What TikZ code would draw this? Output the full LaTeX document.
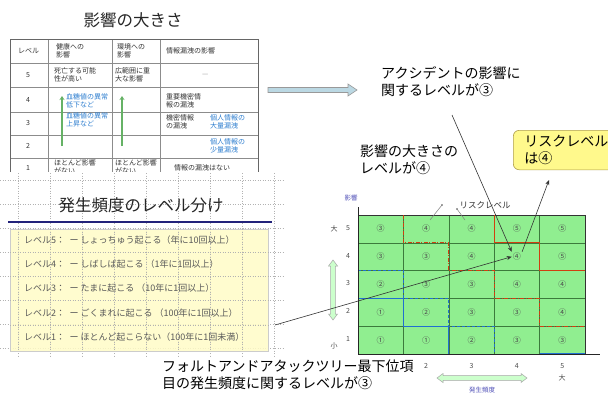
\documentclass[tikz,border=0pt]{standalone}
\usepackage{fontspec}
\setmainfont{Noto Sans CJK JP}
\usetikzlibrary{arrows.meta}
\definecolor{tblue}{HTML}{2F7FD0}
\definecolor{cellgreen}{HTML}{90EE90}
\definecolor{gridgreen}{HTML}{3C7A3C}
\definecolor{riskred}{HTML}{D04010}
\definecolor{lineblue}{HTML}{2070D0}
\definecolor{navy}{HTML}{22227A}
\definecolor{axisblue}{HTML}{5050B8}
\tikzset{
  tbl/.style={font=\fontsize{7}{8.2}\selectfont, text=black!80, anchor=west, align=left, inner sep=0},
  tblblue/.style={tbl, text=tblue},
  cellnum/.style={font=\fontsize{8}{9}\selectfont, text=black!70, inner sep=1pt},
  axlab/.style={font=\fontsize{7}{8}\selectfont, text=black!70, inner sep=0},
  bigtxt/.style={font=\fontsize{14}{17}\selectfont, anchor=north west, align=left, inner sep=0},
  freq/.style={font=\fontsize{9}{10}\selectfont, text=black!65, anchor=west, inner sep=0},
  titletxt/.style={font=\fontsize{16.5}{18}\selectfont, text=black!85, inner sep=0},
  dotgrid/.style={black!30, dotted, line width=0.5pt},
  redsolid/.style={riskred, line width=1.3pt},
  reddash/.style={riskred, line width=1.1pt, dash pattern=on 4pt off 1.5pt on 1pt off 1.5pt},
  bluedash/.style={lineblue, line width=1.1pt, dash pattern=on 3pt off 2pt},
  bluesolid/.style={lineblue, line width=1.2pt},
  ptr/.style={black!80, line width=0.6pt, -{Stealth[length=5pt,width=4pt]}},
  hollowarrow/.style={fill=green!20!white, draw=black!35, line width=0.5pt},
  tblarrow/.style={green!50!black!60, line width=1.3pt, -{Stealth[length=4pt,width=5pt]}},
}
\begin{document}
\begin{tikzpicture}[x=1pt,y=-1pt]
\useasboundingbox (0,0) rectangle (608,399);
\fill[white] (0,0) rectangle (608,399);

% ---------- title 1 ----------
\node[titletxt] (t1) at (133,20) {影響の大きさ};

% ---------- table ----------
\begin{scope}
\clip (0,30) rectangle (270,171);
\draw[black!45, line width=0.5pt] (10,63) -- (258,63) (10,87) -- (258,87) (10,112) -- (258,112)
  (10,135) -- (258,135) (10,158) -- (258,158);
\draw[black!45, line width=0.5pt] (48,39) -- (48,180) (112,39) -- (112,180) (160,39) -- (160,180);
\draw[black!60, line width=0.8pt] (10,180) -- (10,39) -- (258,39) -- (258,180);
\node[tbl] (h0) at (18,51) {レベル};
\node[tbl] (h1) at (56,51) {健康への\\影響};
\node[tbl] (h2) at (117,51) {環境への\\影響};
\node[tbl] (h3) at (166,51) {情報漏洩の影響};
\node[tbl] (r5) at (26,75) {5};
\node[tbl] (r5a) at (54,75) {死亡する可能\\性が高い};
\node[tbl] (r5b) at (115,75) {広範囲に重\\大な影響};
\node[tbl, text=black!40] (r5c) at (202,75) {—};
\node[tbl] (r4) at (26,100) {4};
\node[tblblue] (r4a) at (66,101) {血糖値の異常\\低下など};
\node[tbl] (r4c) at (166,101) {重要機密情\\報の漏洩};
\node[tbl] (r3) at (26,123) {3};
\node[tblblue] (r3a) at (66,120) {血糖値の異常\\上昇など};
\node[tbl] (r3c) at (166,122) {機密情報\\の漏洩};
\node[tblblue] (r3d) at (210,122) {個人情報の\\大量漏洩};
\node[tbl] (r2) at (26,146) {2};
\node[tblblue] (r2d) at (210,146) {個人情報の\\少量漏洩};
\node[tbl] (r1) at (26,168) {1};
\node[tbl] (r1a) at (54,167) {ほとんど影響\\がない};
\node[tbl] (r1b) at (115,167) {ほとんど影響\\がない};
\node[tbl] (r1c) at (174,168) {情報の漏洩はない};
\coordinate (ga1) at (62,146); \coordinate (ga2) at (62,96);
\coordinate (gb1) at (122,146); \coordinate (gb2) at (122,96);
\draw[tblarrow] (ga1) -- (ga2);
\draw[tblarrow] (gb1) -- (gb2);
\end{scope}

% ---------- big teal arrow ----------
\filldraw[fill=cyan!25!teal!30, draw=black!40, line width=0.6pt]
  (268,87.5) -- (348,87.5) -- (348,84) -- (357,90) -- (348,96) -- (348,92.5) -- (268,92.5) -- cycle;

% ---------- dotted grid region ----------
\foreach \xx in {18,50,82,114,146,178,210,242,274} \draw[dotgrid] (\xx,173) -- (\xx,356);
\foreach \yy in {180,204,228,252,276,300,324,348} \draw[dotgrid] (0,\yy) -- (284,\yy);
\node[titletxt] (t2) at (141,205) {発生頻度のレベル分け};
\draw[navy, line width=1.8pt] (8,222) -- (272,222);
\filldraw[fill=yellow!22, draw=black!20, line width=0.5pt, fill opacity=0.85] (10,229) rectangle (268,351);
\foreach \yy in {252,276,300,325} \draw[dotgrid] (10,\yy) -- (268,\yy);
\foreach \xx in {18,50,82,114,146,178,210,242} \draw[dotgrid] (\xx,229) -- (\xx,351);
\node[freq] (f5) at (24,240) {レベル5：\; ー しょっちゅう起こる（年に10回以上）};
\node[freq] (f4) at (24,264) {レベル4：\; ー しばしば起こる （1年に1回以上）};
\node[freq] (f3) at (24,288) {レベル3：\; ー たまに起こる （10年に1回以上）};
\node[freq] (f2) at (24,313) {レベル2：\; ー ごくまれに起こる （100年に1回以上）};
\node[freq] (f1) at (24,337) {レベル1：\; ー ほとんど起こらない（100年に1回未満）};

% ---------- risk matrix ----------
\fill[cellgreen] (358,215) rectangle (585,354);
\foreach \i in {1,2,3,4} \draw[gridgreen, line width=0.5pt] ({358+45.4*\i},215) -- ({358+45.4*\i},354);
\foreach \j in {1,2,3,4} \draw[gridgreen, line width=0.5pt] (358,{215+27.8*\j}) -- (585,{215+27.8*\j});
\draw[black!80, line width=0.8pt] (358,215) -- (585,215) -- (585,354);
% boundaries
\draw[bluesolid] (358,298.4) -- (403.4,298.4) -- (403.4,326.2) -- (448.8,326.2) -- (448.8,354);
\draw[bluedash] (358,270.6) -- (403.4,270.6) -- (403.4,298.4) -- (448.8,298.4) -- (448.8,326.2) -- (494.2,326.2) -- (494.2,354);
\draw[bluesolid] (539.6,354) -- (585,354);
\draw[reddash] (403.4,215) -- (403.4,242.8) -- (448.8,242.8) -- (448.8,270.6) -- (494.2,270.6) -- (494.2,298.4) -- (539.6,298.4) -- (539.6,326.2) -- (585,326.2);
\draw[redsolid] (494.2,215) -- (494.2,242.8) -- (539.6,242.8) -- (539.6,270.6) -- (585,270.6);
% axes
\draw[black!85, line width=0.8pt] (358,207) -- (358,354) -- (600,354);
% cell numbers
\foreach \r/\c/\v in {5/1/③,5/2/④,5/3/④,5/4/⑤,5/5/⑤,
                      4/1/③,4/2/③,4/3/④,4/4/④,4/5/⑤,
                      3/1/②,3/2/③,3/3/③,3/4/④,3/5/④,
                      2/1/①,2/2/②,2/3/③,2/4/③,2/5/④,
                      1/1/①,1/2/①,1/3/②,1/4/③,1/5/③}
  \node[cellnum] (cell-\r-\c) at ({358+45.4*(\c-0.5)},{215+27.8*(5.5-\r)}) {\v};
% axis labels
\node[axlab, text=axisblue, font=\fontsize{6.5}{7}\selectfont] (ylab) at (351,198) {影響};
\foreach \r in {1,...,5} \node[axlab] (yl-\r) at (348,{215+27.8*(5.5-\r)-1}) {\r};
\node[axlab] (ybig) at (334,229) {大};
\node[axlab] (ysmall) at (334,346) {小};
\foreach \c in {2,...,5} \node[axlab] (xl-\c) at ({358+45.4*(\c-0.5)},366) {\c};
\node[axlab] (xbig) at (562,378) {大};
\node[axlab, text=axisblue, font=\fontsize{6.5}{7}\selectfont] (xlab) at (482,390) {発生頻度};
% hollow arrows
\filldraw[hollowarrow] (333,260) -- (337.5,266) -- (335.3,266) -- (335.3,314) -- (337.5,314) -- (333,320)
  -- (328.5,314) -- (330.7,314) -- (330.7,266) -- (328.5,266) -- cycle;
\filldraw[hollowarrow] (437,378) -- (443,373.5) -- (443,375.7) -- (521,375.7) -- (521,373.5) -- (527,378)
  -- (521,382.5) -- (521,380.3) -- (443,380.3) -- (443,382.5) -- cycle;

% risk level leader
\node[axlab, font=\fontsize{8.5}{9}\selectfont, text=black!80] (rl) at (485,205) {リスクレベル};
\coordinate (rlp1) at (442,205); \coordinate (rlq1) at (430,220);
\coordinate (rlp2) at (457,209); \coordinate (rlq2) at (465,220);
\fill[black!70] (rlp1) circle (0.9pt) (rlp2) circle (0.9pt);
\draw[black!50, line width=0.5pt] (rlp1) -- (rlq1) (rlp2) -- (rlq2);

% ---------- annotations ----------
\node[bigtxt] (acc) at (381,66) {アクシデントの影響に\\関するレベルが③};
\node[bigtxt] (imp) at (360,145) {影響の大きさの\\レベルが④};
\node[bigtxt, anchor=north west, draw=black!40!yellow!70!brown, fill=yellow!45, rounded corners=6pt,
      line width=0.6pt, inner xsep=11pt, inner ysep=5pt, text width=82pt] (risk) at (513,130) {リスクレベル\\は④};
\node[bigtxt] (fat) at (162,360) {フォルトアンドアタックツリー最下位項\\目の発生頻度に関するレベルが③};

\coordinate (accstart) at (452,115);
\coordinate (fatstart) at (275,325);
\coordinate (riskend) at (549,180);
\draw[ptr] (accstart) -- (cell-4-4.north west);
\draw[ptr] (fatstart) -- (cell-4-4.west);
\draw[ptr] (cell-4-4.north east) -- (riskend);
\end{tikzpicture}
\end{document}
